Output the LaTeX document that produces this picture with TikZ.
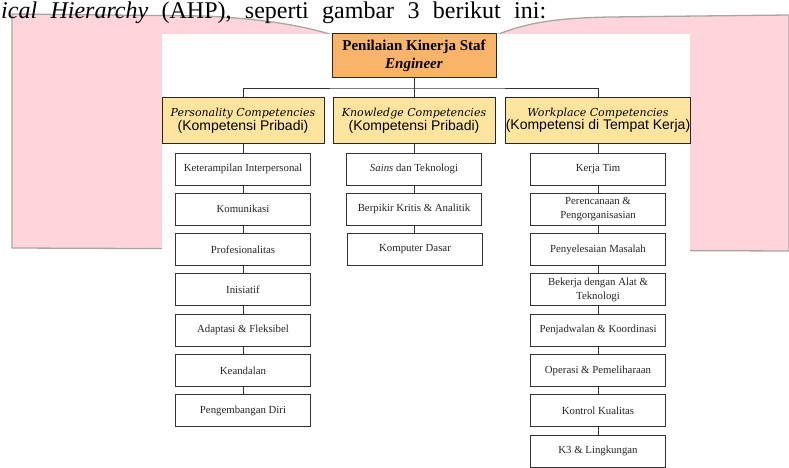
\documentclass[tikz,border=0pt]{standalone}
\usepackage{fontspec}
\setmainfont{Liberation Serif}
\newfontfamily\dejavuserif{DejaVu Serif}
\newfontfamily\arialsans{Liberation Sans}

\definecolor{rootorange}{HTML}{FAB46A}
\definecolor{groupyellow}{HTML}{FDE59F}
\definecolor{slidepink}{HTML}{FFD5DB}

\tikzset{
  rootbox/.style={draw=black!85, fill=rootorange, line width=1pt, minimum width=164pt,
    minimum height=44pt, align=center, inner sep=0pt, font=\fontsize{15}{18}\selectfont\bfseries},
  groupbox/.style={draw=black!85, fill=groupyellow, line width=1pt, minimum height=45pt,
    align=center, inner sep=0pt, font=\fontsize{11}{12.5}\selectfont},
  itembox/.style={draw=black!80, fill=white, line width=1pt, minimum width=135pt,
    minimum height=32pt, align=center, inner sep=0pt, text=black!85,
    font=\fontsize{10.8}{14}\selectfont},
  link/.style={draw=black!80, line width=0.9pt},
}

\newcommand{\grouptext}[2]{{\dejavuserif\itshape #1}\\{\arialsans\fontsize{14}{12.5}\selectfont #2}}

\begin{document}
\begin{tikzpicture}[x=1pt, y=-1pt]
\useasboundingbox (0,0) rectangle (789,468);
\clip (0,0) rectangle (789,468);

% slide behind the figure
\fill [white](0,0) rectangle (789,468);
\filldraw [fill=slidepink, draw=black!35, line width=1.3pt]
  (12,14) -- (205,16) .. controls (265,19) and (305,26) .. (336,36)
  -- (494,36) .. controls (525,23) and (555,18) .. (610,17) -- (789,15)
  -- (789,251) -- (12,248) -- cycle;
\fill [white](162,34) rectangle (690,468);

% root
\node [rootbox] (root) at (414,56) {Penilaian Kinerja Staf\\\textit{Engineer}};

% groups
\node [groupbox, minimum width=162pt] (pers) at (243,120.5)
  {\grouptext{Personality Competencies}{(Kompetensi Pribadi)}};
\node [groupbox, minimum width=162pt] (know) at (414,120.5)
  {\grouptext{Knowledge Competencies}{(Kompetensi Pribadi)}};
\node [groupbox, minimum width=184pt] (work) at (598,120.5)
  {\grouptext{Workplace Competencies}{(Kompetensi di Tempat Kerja)}};

\coordinate (bus) at (414,88);
\draw [link](root.south) -- (know.north);
\draw [link](pers.north) |- (bus) -| (work.north);

% personality
\node [itembox] (p1) at (243,169) {Keterampilan Interpersonal};
\node [itembox] (p2) at (243,209.3) {Komunikasi};
\node [itembox] (p3) at (243,249.6) {Profesionalitas};
\node [itembox] (p4) at (243,289.9) {Inisiatif};
\node [itembox] (p5) at (243,330.2) {Adaptasi \& Fleksibel};
\node [itembox] (p6) at (243,370.5) {Keandalan};
\node [itembox] (p7) at (243,410.8) {Pengembangan Diri};
\draw [link](pers) -- (p1) -- (p2) -- (p3) -- (p4) -- (p5) -- (p6) -- (p7);

% knowledge
\node [itembox] (k1) at (414,169) {\textit{Sains} dan Teknologi};
\node [itembox] (k2) at (414,209.3) {Berpikir Kritis \& Analitik};
\node [itembox] (k3) at (415,249.6) {Komputer Dasar};
\draw [link](know) -- (k1) -- (k2) -- (k2 |- k3.north);

% workplace
\node [itembox] (w1) at (598,169) {Kerja Tim};
\node [itembox] (w2) at (598,209.3) {Perencanaan \&\\Pengorganisasian};
\node [itembox] (w3) at (598,249.6) {Penyelesaian Masalah};
\node [itembox] (w4) at (598,289.9) {Bekerja dengan Alat \&\\Teknologi};
\node [itembox] (w5) at (598,330.2) {Penjadwalan \& Koordinasi};
\node [itembox] (w6) at (598,370.5) {Operasi \& Pemeliharaan};
\node [itembox] (w7) at (598,410.8) {Kontrol Kualitas};
\node [itembox] (w8) at (598,451.1) {K3 \& Lingkungan};
\draw [link](work) -- (w1) -- (w2) -- (w3) -- (w4) -- (w5) -- (w6) -- (w7) -- (w8);

% text line above the figure
\node [anchor=base west, inner sep=0pt, font=\fontsize{24}{28}\selectfont] (caption) at (1,19)
  {\makebox[545pt][s]{\textit{ical Hierarchy} (AHP), seperti gambar 3 berikut ini:}};

\end{tikzpicture}
\end{document}
